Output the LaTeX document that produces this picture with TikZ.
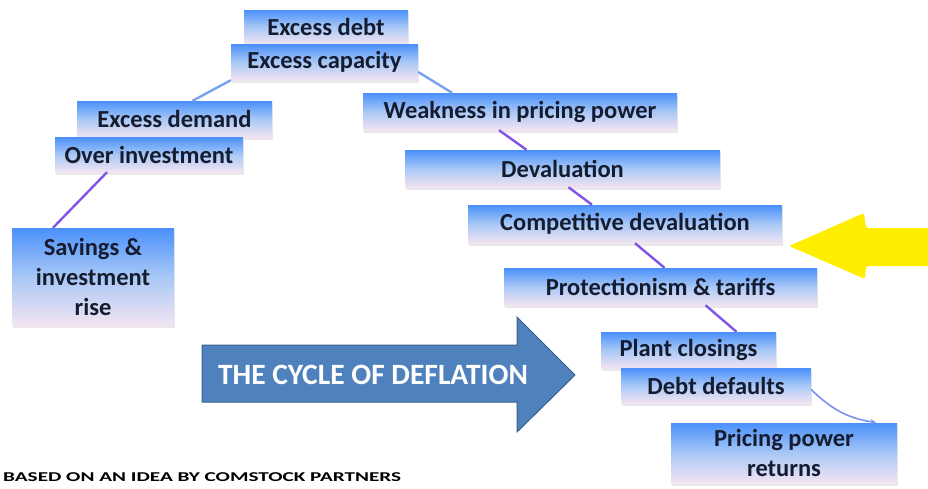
\documentclass[tikz,border=0pt]{standalone}
\usepackage{fontspec}
\setmainfont{Carlito}
\usetikzlibrary{shadows}

\definecolor{boxtop}{RGB}{74,144,250}
\definecolor{boxmid}{RGB}{168,200,246}
\definecolor{boxbot}{RGB}{242,228,242}
\definecolor{boxtext}{RGB}{22,28,48}
\definecolor{linkblue}{RGB}{120,162,240}
\definecolor{linkpurple}{RGB}{128,84,232}
\definecolor{arrowblue}{RGB}{79,129,189}
\definecolor{arrowedge}{RGB}{58,96,142}
\definecolor{pointer}{RGB}{255,238,0}

\tikzset{
  stepbox/.style={draw=none, top color=boxtop, bottom color=boxbot,
    middle color=boxmid, text=boxtext, inner sep=0pt, align=center,
    font=\fontsize{24.5}{30}\selectfont\bfseries,
    drop shadow={opacity=0.18, shadow xshift=1pt, shadow yshift=-3pt}},
  link/.style={line width=2.4pt, linkpurple},
  softlink/.style={line width=2.4pt, linkblue}
}

\begin{document}
\begin{tikzpicture}[x=1pt,y=-1pt]
  \useasboundingbox (0,0) rectangle (928,488);

  % left branch
  \node[stepbox, minimum width=164pt, minimum height=34pt] (debt) at (326,27) {Excess debt};
  \node[stepbox, minimum width=187pt, minimum height=36pt] (capacity) at (324.5,62) {Excess capacity};
  \node[stepbox, minimum width=195pt, minimum height=36pt] (demand) at (174.5,119) {Excess demand};
  \node[stepbox, minimum width=188pt, minimum height=35pt] (overinv) at (149,154.5) {Over investment};
  \node[stepbox, minimum width=162pt, minimum height=97pt] (savings) at (93,276.5) {Savings \&\\investment\\rise};

  % right branch
  \node[stepbox, minimum width=314pt, minimum height=37pt] (weakness) at (520,111.5) {Weakness in pricing power};
  \node[stepbox, minimum width=315pt, minimum height=37pt] (deval) at (562.5,168.5) {Devaluation};
  \node[stepbox, minimum width=314pt, minimum height=38pt] (compdeval) at (625,224) {Competitive devaluation};
  \node[stepbox, minimum width=313pt, minimum height=37pt] (protect) at (660.5,286.5) {Protectionism \& tariffs};
  \node[stepbox, minimum width=175pt, minimum height=36pt] (plant) at (688.5,350) {Plant closings};
  \node[stepbox, minimum width=190pt, minimum height=35pt] (defaults) at (716,385.5) {Debt defaults};
  \node[stepbox, minimum width=226pt, minimum height=60pt] (returns) at (784,453) {Pricing power\\returns};

  % connectors
  \draw[softlink] (capacity.south west) -- ([xshift=18pt]demand.north);
  \draw[softlink] ([yshift=-10pt]capacity.east) -- ([xshift=-68pt]weakness.north);
  \draw[link] ([xshift=-42pt]overinv.south) -- ([xshift=-40pt]savings.north);
  \draw[link] ([xshift=-21pt]weakness.south) -- ([xshift=-36pt]deval.north);
  \draw[link] ([xshift=6pt]deval.south) -- ([xshift=-33pt]compdeval.north);
  \draw[link] ([xshift=10pt]compdeval.south) -- ([xshift=4pt]protect.north);
  \draw[link] ([xshift=45pt]protect.south) -- ([xshift=48pt]plant.north);
  \draw[line width=1.6pt, linkblue!80!linkpurple, -stealth, shorten >=2pt]
    ([yshift=-4pt]defaults.east) to[bend right=18] ([xshift=94pt]returns.north);

  % big title arrow
  \draw[fill=arrowblue, draw=arrowedge, line width=1pt]
    (202,345) -- (517,345) -- (517,317) -- (575,375) -- (517,432)
    -- (517,402) -- (202,402) -- cycle;
  \node[text=white, font=\fontsize{29.5}{34}\selectfont\bfseries] (cycle) at (373,375)
    {THE CYCLE OF DEFLATION};

  % yellow pointer
  \fill[pointer, rounded corners=2pt]
    (935,228) -- (866,228) -- (864,213) -- (789,246) -- (865,279)
    -- (866,266) -- (935,266) -- cycle;

  % source note
  \node[anchor=west, inner sep=0pt, text=black, font=\fontsize{13.5}{15}\selectfont\bfseries] (source) at (3,477)
    {\scalebox{1.57}[1]{BASED ON AN IDEA BY COMSTOCK PARTNERS}};
\end{tikzpicture}
\end{document}
